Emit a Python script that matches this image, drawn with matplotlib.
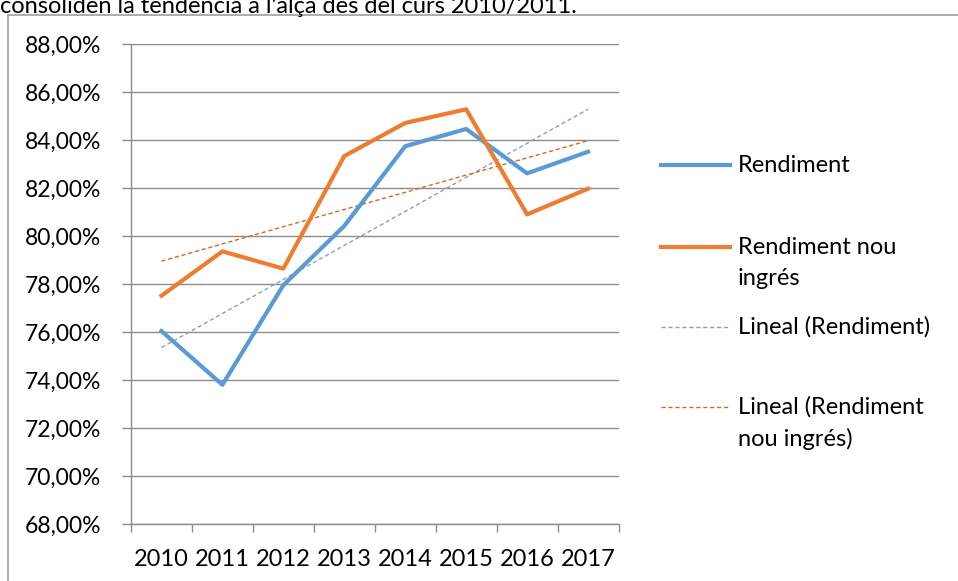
import numpy as np
import matplotlib
matplotlib.use("Agg")
import matplotlib.pyplot as plt
from matplotlib.lines import Line2D
from matplotlib.patches import Rectangle
from matplotlib.ticker import FuncFormatter, MultipleLocator

plt.rcParams["font.family"] = ["Lato", "DejaVu Sans"]

years = ["2010", "2011", "2012", "2013", "2014", "2015", "2016", "2017"]
rendiment = [76.04, 73.80, 77.95, 80.42, 83.74, 84.46, 82.61, 83.51]
rendiment_nou = [77.51, 79.36, 78.64, 83.33, 84.71, 85.28, 80.90, 81.97]

BLUE = "#5B9BD5"
ORANGE = "#ED7D31"
BLUE_TREND = "#8C9DC0"
ORANGE_TREND = "#D2691E"
GRID = "#8C8C8C"
FS = 17

W, H = 958, 581
fig = plt.figure(figsize=(W / 100, H / 100), dpi=100)


def fx(px):
    return px / W


def fy(py):
    return 1 - py / H


# text cut off above the chart box
fig.text(fx(0), fy(13), "consoliden la tendència a l'alça des del curs 2010/2011.",
         fontsize=17, va="baseline", ha="left", color="#000000")
fig.add_artist(Rectangle((fx(8), fy(600)), fx(1000), fy(15) - fy(600),
                         transform=fig.transFigure, fill=False,
                         edgecolor="#A6A6A6", lw=1.3))

ax = fig.add_axes([fx(131), fy(524), fx(618.5) - fx(131), fy(44) - fy(524)])
x = np.arange(len(years)) + 0.5

# linear trends (Excel style, fit over the category index)
for vals, c in [(rendiment, BLUE_TREND), (rendiment_nou, ORANGE_TREND)]:
    k, b = np.polyfit(x, vals, 1)
    ax.plot(x, k * x + b, color=c, lw=1.0, dashes=(3, 2), zorder=3)

ax.plot(x, rendiment, color=BLUE, lw=3.0, solid_joinstyle="round", zorder=4)
ax.plot(x, rendiment_nou, color=ORANGE, lw=3.0, solid_joinstyle="round", zorder=4)

ax.set_xlim(0, len(years))
ax.set_ylim(68, 88)
ax.yaxis.set_major_locator(MultipleLocator(2))
ax.yaxis.set_major_formatter(FuncFormatter(lambda v, p: f"{v:.2f}%".replace(".", ",")))
ax.grid(axis="y", color=GRID, lw=1.0)
ax.set_axisbelow(True)
for s in ["top", "right"]:
    ax.spines[s].set_visible(False)
ax.spines["left"].set_color(GRID)
ax.spines["bottom"].set_color(GRID)
ax.spines["left"].set_linewidth(1.0)
ax.spines["bottom"].set_linewidth(1.0)

ax.set_xticks(np.arange(len(years) + 1))
ax.set_xticklabels([])
ax.set_xticks(x, minor=True)
ax.set_xticklabels(years, minor=True, fontsize=FS)
ax.tick_params(axis="x", which="major", length=6, color=GRID, width=1.0)
ax.tick_params(axis="x", which="minor", length=0, pad=18)
ax.tick_params(axis="y", length=6.5, color=GRID, width=1.0, labelsize=16.5, pad=15)

# legend drawn by hand to keep Excel's uneven spacing
entries = [
    (165, BLUE, 3.0, None, ["Rendiment"]),
    (247, ORANGE, 3.0, None, ["Rendiment nou", "ingrés"]),
    (327, BLUE_TREND, 1.0, (3, 2), ["Lineal (Rendiment)"]),
    (407, ORANGE_TREND, 1.0, (3, 2), ["Lineal (Rendiment", "nou ingrés)"]),
]
for ypx, c, lw, dash, lines in entries:
    ln = Line2D([fx(661), fx(730)], [fy(ypx), fy(ypx)], transform=fig.transFigure,
                color=c, lw=lw)
    if dash:
        ln.set_dashes(dash)
    fig.add_artist(ln)
    for i, t in enumerate(lines):
        fig.text(fx(738), fy(ypx + 31.5 * i), t, fontsize=FS, va="center", ha="left")

fig.savefig("out.png", dpi=100)
